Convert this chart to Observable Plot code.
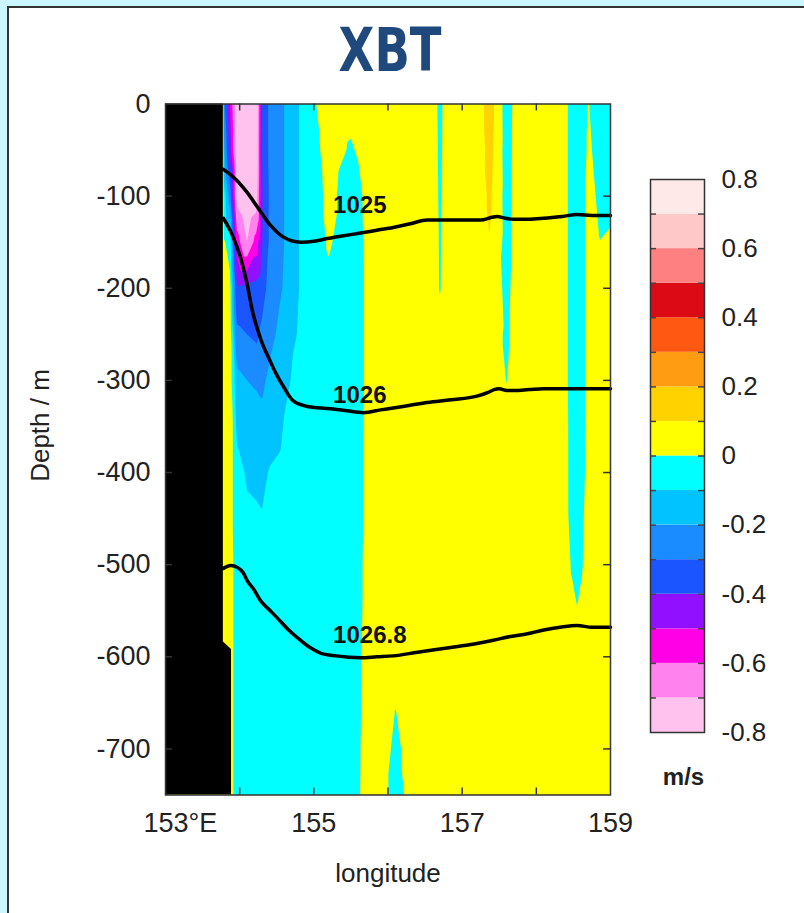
<!DOCTYPE html>
<html><head><meta charset="utf-8">
<script src="https://cdn.jsdelivr.net/npm/d3@7"></script>
<script src="https://cdn.jsdelivr.net/npm/@observablehq/plot@0.6"></script>
<style>
html,body{margin:0;padding:0;background:#cbf6ff;width:804px;height:913px;overflow:hidden;font-family:"Liberation Sans",Arial,sans-serif}
#panel{position:absolute;left:7px;top:6px;width:830px;height:940px;background:#fff;border-left:2px solid #333;border-top:2px solid #333}
#title{position:absolute;left:290px;width:200px;top:20px;text-align:center;font-weight:bold;font-size:60px;font-family:"Liberation Sans Narrow","DejaVu Sans Condensed","Open Sans",sans-serif;font-stretch:condensed;color:#1f497d;line-height:60px;transform:scaleX(0.86);transform-origin:center}
#main{position:absolute;left:0;top:0}
#cbar{position:absolute;left:640px;top:140px}
</style></head><body>
<div id="panel"></div>
<div id="title">XBT</div>
<div id="main"></div><div id="cbar"></div>
<script>
// ---- data ----
const depthLevels = [0, -50, -100, -150, -200, -250, -300, -400, -500, -600, -700, -750];
const stationLon = [153.78, 153.87, 153.96, 154.1, 154.22, 154.3, 154.4, 154.6, 154.8, 155.0,
  155.2, 155.5, 155.6, 155.75, 155.9, 156.1, 156.35, 156.55, 156.7, 156.85, 157.05, 157.22,
  157.37, 157.6, 157.75, 158.0, 158.38, 158.47, 158.55, 158.62, 158.7, 158.85, 159.0];
// along-section velocity (m/s) at each station, per depth level
const speed = [
  [-0.25, -0.15, -0.03, 0.02, 0.05, 0.05, 0.05, 0.05, 0.05, 0.05, 0.05, 0.05],
  [-0.5, -0.45, -0.25, -0.05, 0.03, 0.05, 0.05, 0.05, 0.05, 0.05, 0.05, 0.05],
  [-0.78, -0.76, -0.74, -0.55, -0.38, -0.28, -0.17, -0.07, -0.05, -0.05, -0.05, -0.05],
  [-0.86, -0.85, -0.82, -0.7, -0.38, -0.3, -0.2, -0.11, -0.06, -0.05, -0.05, -0.05],
  [-0.84, -0.82, -0.78, -0.56, -0.37, -0.32, -0.21, -0.115, -0.065, -0.05, -0.05, -0.05],
  [-0.4, -0.4, -0.41, -0.41, -0.34, -0.28, -0.22, -0.12, -0.07, -0.05, -0.05, -0.05],
  [-0.28, -0.28, -0.29, -0.29, -0.27, -0.23, -0.18, -0.095, -0.06, -0.05, -0.05, -0.05],
  [-0.2, -0.2, -0.2, -0.2, -0.19, -0.16, -0.115, -0.075, -0.05, -0.05, -0.05, -0.05],
  [-0.1, -0.1, -0.1, -0.1, -0.1, -0.09, -0.08, -0.06, -0.05, -0.05, -0.05, -0.05],
  [-0.01, -0.03, -0.05, -0.05, -0.05, -0.05, -0.05, -0.05, -0.05, -0.05, -0.05, -0.05],
  [0.05, 0.04, 0.03, 0.01, -0.02, -0.05, -0.05, -0.05, -0.05, -0.05, -0.05, -0.05],
  [0.03, -0.01, -0.05, -0.05, -0.05, -0.05, -0.05, -0.05, -0.05, -0.05, -0.05, -0.05],
  [0.05, 0.01, -0.03, -0.04, -0.05, -0.05, -0.05, -0.04, -0.03, -0.02, -0.012, -0.01],
  [0.05, 0.05, 0.05, 0.05, 0.05, 0.05, 0.05, 0.05, 0.05, 0.05, 0.05, 0.05],
  [0.05, 0.05, 0.05, 0.05, 0.05, 0.05, 0.05, 0.05, 0.05, 0.05, 0.05, 0.05],
  [0.05, 0.05, 0.05, 0.05, 0.05, 0.05, 0.05, 0.05, 0.05, 0.025, -0.022, -0.045],
  [0.05, 0.05, 0.05, 0.05, 0.05, 0.05, 0.05, 0.05, 0.05, 0.05, 0.05, 0.05],
  [0.05, 0.05, 0.05, 0.05, 0.05, 0.05, 0.05, 0.05, 0.05, 0.05, 0.05, 0.05],
  [-0.015, -0.012, -0.009, -0.0055, -0.004, 0.02, 0.05, 0.05, 0.05, 0.05, 0.05, 0.05],
  [0.05, 0.05, 0.05, 0.05, 0.05, 0.05, 0.05, 0.05, 0.05, 0.05, 0.05, 0.05],
  [0.05, 0.05, 0.05, 0.05, 0.05, 0.05, 0.05, 0.05, 0.05, 0.05, 0.05, 0.05],
  [0.05, 0.05, 0.05, 0.05, 0.05, 0.05, 0.05, 0.05, 0.05, 0.05, 0.05, 0.05],
  [0.15, 0.135, 0.118, 0.098, 0.07, 0.05, 0.05, 0.05, 0.05, 0.05, 0.05, 0.05],
  [-0.05, -0.045, -0.04, -0.035, -0.025, -0.015, -0.002, 0.05, 0.05, 0.05, 0.05, 0.05],
  [0.05, 0.05, 0.05, 0.05, 0.05, 0.05, 0.05, 0.05, 0.05, 0.05, 0.05, 0.05],
  [0.05, 0.05, 0.05, 0.05, 0.05, 0.05, 0.05, 0.05, 0.05, 0.05, 0.05, 0.05],
  [0.05, 0.05, 0.05, 0.05, 0.05, 0.05, 0.05, 0.05, 0.05, 0.05, 0.05, 0.05],
  [-0.05, -0.05, -0.05, -0.05, -0.05, -0.05, -0.05, -0.04, -0.005, 0.04, 0.05, 0.05],
  [-0.05, -0.05, -0.05, -0.05, -0.05, -0.05, -0.05, -0.05, -0.025, 0.03, 0.05, 0.05],
  [-0.05, -0.05, -0.05, -0.05, -0.05, -0.05, -0.05, -0.04, -0.005, 0.04, 0.05, 0.05],
  [0.005, 0.02, 0.04, 0.05, 0.05, 0.05, 0.05, 0.05, 0.05, 0.05, 0.05, 0.05],
  [-0.05, -0.04, -0.02, 0.001, 0.05, 0.05, 0.05, 0.05, 0.05, 0.05, 0.05, 0.05],
  [-0.05, -0.04, -0.02, 0.01, 0.05, 0.05, 0.05, 0.05, 0.05, 0.05, 0.05, 0.05]
];

// coastline (land mask)
const coastLon = [153.78, 153.78, 153.89, 153.89];
const coastDepth = [0, -584, -592, -750];

// isopycnals (lon, depth)
const iso1025 = [[153.78,-71],[153.95,-82],[154.1,-96],[154.25,-113],[154.42,-132],[154.6,-145],[154.82,-150],[155.0,-149],[155.18,-146],[155.4,-143],[155.63,-140],[155.85,-137],[156.07,-134],[156.3,-130],[156.53,-126],[156.9,-126],[157.25,-126],[157.4,-123],[157.47,-122],[157.58,-124],[157.7,-125],[157.9,-125],[158.1,-124],[158.35,-122],[158.55,-120],[158.75,-121],[159.0,-121]];
const iso1026 = [[153.78,-124],[153.9,-142],[154.01,-166],[154.1,-195],[154.17,-224],[154.25,-247],[154.31,-261],[154.4,-277],[154.48,-291],[154.6,-308],[154.72,-322],[154.9,-328],[155.1,-330],[155.26,-331],[155.45,-333],[155.67,-335],[155.9,-332],[156.07,-330],[156.3,-327],[156.53,-324],[156.85,-321],[157.2,-317],[157.35,-313],[157.43,-310],[157.5,-309],[157.6,-311],[157.7,-311],[157.9,-310],[158.1,-309],[158.5,-309],[159.0,-309]];
const iso10268 = [[153.78,-504],[153.88,-501],[153.97,-503],[154.05,-509],[154.1,-517],[154.2,-528],[154.28,-539],[154.4,-549],[154.51,-558],[154.65,-570],[154.82,-582],[154.95,-590],[155.09,-596],[155.3,-599],[155.63,-601],[155.85,-600],[156.07,-599],[156.4,-595],[156.75,-591],[157.1,-587],[157.42,-582],[157.65,-578],[157.88,-575],[158.1,-571],[158.32,-568],[158.55,-566],[158.75,-568],[159.0,-568]];
const isoNames = ["1025", "1026", "1026.8"];
const isoLabelLon = [155.26, 155.26, 155.26];
const isoLabelDepth = [-110, -316, -577];

// colour classes
const colorBreaks = [-0.7, -0.6, -0.5, -0.4, -0.3, -0.2, -0.1, 0, 0.1, 0.2, 0.3, 0.4, 0.5, 0.6, 0.7];
const colorRange = ["#ffc2ee", "#ff82ee", "#ff00e6", "#9010ff", "#1a55ff", "#1a8cff", "#00c3ff", "#00ffff",
  "#ffff00", "#ffd200", "#ff9c12", "#ff5812", "#dc0a14", "#ff8080", "#ffc8c8", "#ffe8e8"];
const binLower = [-0.8, ...colorBreaks];
const contourThresholds = [-1, ...colorBreaks];

const yTicks = [0, -100, -200, -300, -400, -500, -600, -700];
const xTickMarks = [154, 155, 156, 157, 158];
const xTickLabels = [155, 157, 159];
const cbTicks = [-0.8, -0.6, -0.4, -0.2, 0, 0.2, 0.4, 0.6, 0.8];

// ---- build ----
const points = [];
stationLon.forEach((lon, i) => depthLevels.forEach((d, j) => points.push({lon, depth: d, v: speed[i][j]})));
const coast = coastLon.map((lon, i) => ({lon, depth: coastDepth[i]}));
const isoLines = [iso1025, iso1026, iso10268];
const isoLabels = isoNames.map((t, i) => ({t, lon: isoLabelLon[i], depth: isoLabelDepth[i]}));

const colorScale = {type: "threshold", domain: colorBreaks, range: colorRange};
const frameW = 445, frameH = 691, tickLen = 7;
const ink = "#222";

const main = Plot.plot({
  width: 640, height: 900,
  marginLeft: 165, marginRight: 30, marginTop: 103.5, marginBottom: 105.5,
  x: {domain: [153, 159]},
  y: {domain: [-750, 0]},
  color: colorScale,
  style: {fontFamily: "'Liberation Sans', Arial, sans-serif", fontSize: "27px", background: "transparent", color: ink},
  marks: [
    Plot.contour(points, {x: "lon", y: "depth", fill: "v", thresholds: contourThresholds, interpolate: "barycentric", pixelSize: 1}),
    Plot.areaX(coast, {y: "depth", x1: 153, x2: "lon", fill: "black"}),
    ...isoLines.map(L => Plot.line(L, {x: d => d[0], y: d => d[1], stroke: "black", strokeWidth: 3.5, curve: "monotone-x"})),
    Plot.text(isoLabels, {x: "lon", y: "depth", text: "t", textAnchor: "start", lineAnchor: "middle", fontWeight: "bold", fontSize: 24, fill: "#111"}),
    Plot.ruleX(xTickMarks, {x: d => d, insetTop: frameH - tickLen, stroke: "#333", strokeWidth: 1.5}),
    Plot.ruleX(xTickMarks, {x: d => d, insetBottom: frameH - tickLen, stroke: "#333", strokeWidth: 1.5}),
    Plot.ruleY(yTicks.slice(1), {y: d => d, insetRight: frameW - tickLen, stroke: "#333", strokeWidth: 1.5}),
    Plot.ruleY(yTicks.slice(1), {y: d => d, insetLeft: frameW - tickLen, stroke: "#333", strokeWidth: 1.5}),
    Plot.frame({stroke: "#333", strokeWidth: 1.5}),
    Plot.axisY({ticks: yTicks, tickSize: 0, tickPadding: 15, tickFormat: d => String(d), label: null, fontSize: 27, fill: ink}),
    Plot.axisX({ticks: xTickLabels, tickSize: 0, tickPadding: 18, tickFormat: d => String(d), label: null, fontSize: 27, fill: ink}),
    Plot.text([153], {x: d => d, text: d => `${d}°E`, frameAnchor: "bottom", lineAnchor: "top", textAnchor: "start", dx: -22, dy: 18, fontSize: 27, fill: ink}),
    Plot.text(["longitude"], {text: d => d, frameAnchor: "bottom", textAnchor: "middle", lineAnchor: "middle", dy: 79, fontSize: 26, fill: ink}),
    Plot.text(["Depth / m"], {text: d => d, frameAnchor: "left", textAnchor: "middle", lineAnchor: "middle", rotate: -90, dx: -125, dy: -24, fontSize: 26, fill: ink})
  ]
});
document.getElementById("main").appendChild(main);

const cbar = Plot.plot({
  width: 150, height: 700,
  marginLeft: 10, marginRight: 86, marginTop: 39, marginBottom: 108,
  y: {domain: [-0.8, 0.8]},
  color: colorScale,
  style: {fontFamily: "'Liberation Sans', Arial, sans-serif", fontSize: "26px", background: "transparent", color: ink},
  marks: [
    Plot.rect(binLower, {y1: d => d, y2: d => d + 0.1, fill: d => d}),
    Plot.ruleY(colorBreaks, {y: d => d, insetRight: 48, stroke: "#444", strokeWidth: 1.5}),
    Plot.ruleY(colorBreaks, {y: d => d, insetLeft: 48, stroke: "#444", strokeWidth: 1.5}),
    Plot.frame({stroke: "#333", strokeWidth: 1.5}),
    Plot.axisY({anchor: "right", ticks: cbTicks, tickSize: 0, tickPadding: 17, tickFormat: d => String(d), label: null, fontSize: 26, fill: ink}),
    Plot.text(["m/s"], {text: d => d, frameAnchor: "bottom", textAnchor: "middle", lineAnchor: "middle", dy: 45, dx: 6, fontWeight: "bold", fontSize: 24, fill: ink})
  ]
});
document.getElementById("cbar").appendChild(cbar);
</script>
</body></html>
